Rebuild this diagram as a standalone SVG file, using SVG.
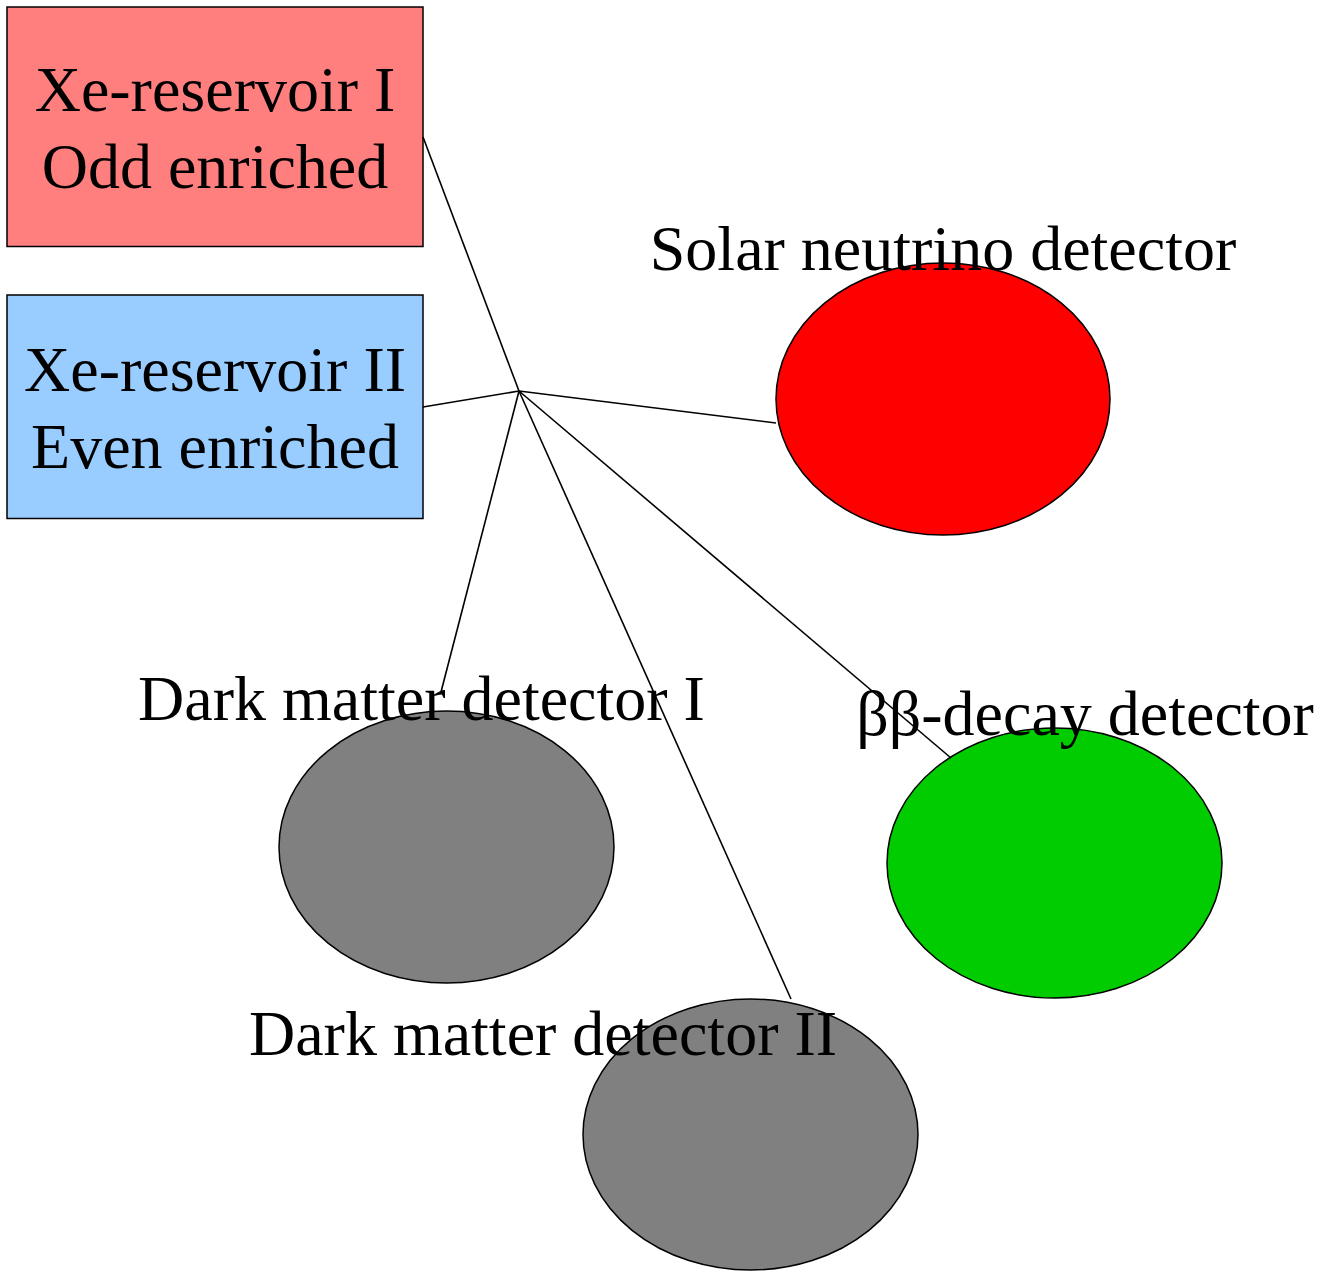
<svg xmlns="http://www.w3.org/2000/svg" width="1322" height="1271" viewBox="0 0 1322 1271">
<style>
.n{stroke:#000;stroke-width:1.5}
.t{font-family:"Liberation Serif","Times New Roman",serif;font-size:64px;fill:#000;text-anchor:middle}
.e{stroke:#000;stroke-width:1.6;fill:none}
</style>
<rect width="1322" height="1271" fill="#fff"/>
<g id="res1"><rect class="n" x="7" y="7" width="416" height="239.5" fill="#ff7f7f"/><text class="t" x="215" y="111">Xe-reservoir I</text><text class="t" x="215" y="188">Odd enriched</text></g>
<g id="res2"><rect class="n" x="7" y="295" width="416" height="223.5" fill="#99ccff"/><text class="t" x="215" y="391">Xe-reservoir II</text><text class="t" x="215" y="468">Even enriched</text></g>
<g id="solar"><ellipse class="n" cx="943" cy="399" rx="167" ry="136" fill="#ff0000"/><text class="t" x="943" y="270">Solar neutrino detector</text></g>
<g id="bb"><ellipse class="n" cx="1054.5" cy="863" rx="167.5" ry="135" fill="#00cc00"/><text class="t" x="1085" y="735">ββ-decay detector</text></g>
<g id="dm1"><ellipse class="n" cx="446.5" cy="847" rx="167.5" ry="136" fill="#808080"/><text class="t" x="421.5" y="720">Dark matter detector I</text></g>
<g id="dm2"><ellipse class="n" cx="750.5" cy="1134.5" rx="167.5" ry="135.5" fill="#808080"/><text class="t" x="543" y="1055">Dark matter detector II</text></g>
<g id="connectors">
<line class="e" x1="519" y1="391" x2="423" y2="137"/>
<line class="e" x1="519" y1="391" x2="423" y2="407"/>
<line class="e" x1="519" y1="391" x2="776" y2="423"/>
<line class="e" x1="519" y1="391" x2="951" y2="758"/>
<line class="e" x1="519" y1="391" x2="441" y2="692"/>
<line class="e" x1="519" y1="391" x2="791" y2="999"/>
</g>
</svg>
